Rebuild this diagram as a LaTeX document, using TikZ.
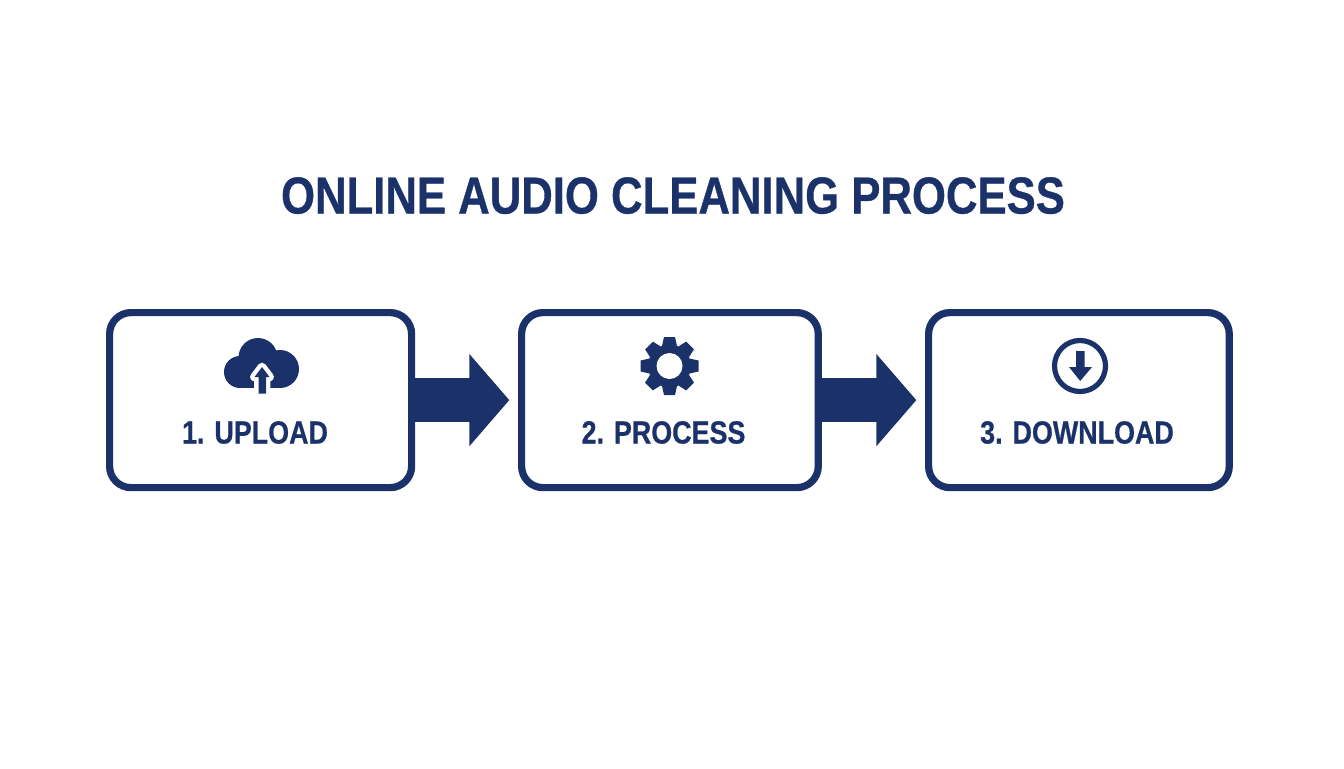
\documentclass[tikz,border=0pt]{standalone}
\usepackage{fontspec}
\usetikzlibrary{arrows.meta}
\setmainfont{Liberation Sans}[BoldFeatures={FakeStretch=0.84,FakeBold=0.6}]
\definecolor{navy}{HTML}{1A3169}
\tikzset{
  stagebox/.style={draw=navy,line width=5.4pt,rounded corners=16pt,fill=white,inner sep=0pt,anchor=north west},
  titletext/.style={text=navy,font=\fontsize{39pt}{39pt}\selectfont\bfseries,anchor=base,inner sep=0pt},
  stagetext/.style={text=navy,font=\fontsize{24pt}{24pt}\selectfont\bfseries,anchor=base,inner sep=0pt},
  flow/.style={navy,line width=33pt,-{Triangle[length=30pt,width=67.5pt]},shorten >=6.5pt},
}
\begin{document}
\begin{tikzpicture}[x=0.75pt,y=-0.75pt]
\useasboundingbox (0,0) rectangle (1344,768);
\fill[white] (0,0) rectangle (1344,768);
\node[titletext] (title) at (673,213.5) {ONLINE AUDIO CLEANING PROCESS};
\node[stagebox,minimum width=226.5pt,minimum height=131.25pt] (b1) at (106,309) {};
\node[stagebox,minimum width=222.5pt,minimum height=131.25pt] (b2) at (518,309) {};
\node[stagebox,minimum width=225.5pt,minimum height=131.25pt] (b3) at (925,309) {};
\draw[flow] (b1.east) -- (b2.west);
\draw[flow] (b2.east) -- (b3.west);
\node[stagetext] (l1) at (255,443.5) {1. UPLOAD};
\node[stagetext] (l2) at (663.5,443.5) {2. PROCESS};
\node[stagetext] (l3) at (1077,443.5) {3. DOWNLOAD};
% cloud icon
\fill[navy] (240,372) circle[radius=16];
\fill[navy] (280,369) circle[radius=19];
\fill[navy] (258,357.5) circle[radius=19.5];
\fill[navy] (240,365) -- (280,365) -- (280,388) -- (240,388) -- cycle;
\draw[white,line width=6.5pt,line join=round,fill=white] (262,367) -- (269.5,377) -- (266,377) -- (266,393.5) -- (258.5,393.5) -- (258.5,377) -- (254.5,377) -- cycle;
\fill[navy] (262,367) -- (269.5,377) -- (266,377) -- (266,393.5) -- (258.5,393.5) -- (258.5,377) -- (254.5,377) -- cycle;
% gear icon
\begin{scope}[shift={(669.5,366)}]
\fill[navy] (0,0) circle[radius=21.5];
\foreach \a in {0,45,...,315}
  \fill[navy,rotate=\a] (-7.5,-20) -- (-5.5,-29) -- (5.5,-29) -- (7.5,-20) -- cycle;
\fill[white] (0,0) circle[radius=13];
\end{scope}
% download icon
\draw[navy,line width=3.9pt] (1080,366) circle[radius=25.5];
\fill[navy] (1076,351) -- (1084.5,351) -- (1084.5,367) -- (1092,367) -- (1080.2,381) -- (1069,367) -- (1076,367) -- cycle;
\end{tikzpicture}
\end{document}
